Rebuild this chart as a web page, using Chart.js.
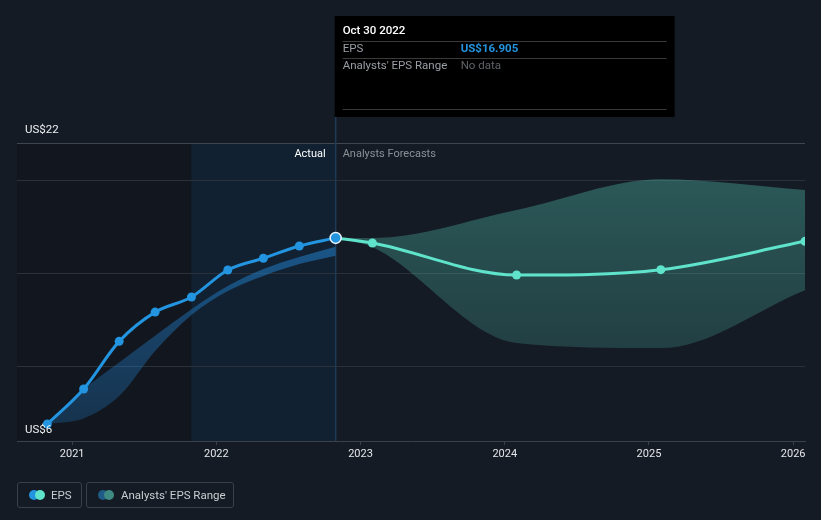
<!DOCTYPE html>
<html>
<head>
<meta charset="utf-8">
<script src="https://cdn.jsdelivr.net/npm/chart.js@4.4.0/dist/chart.umd.min.js"></script>
<style>
  html, body { margin:0; padding:0; background:#151b25; }
  #wrap { position:relative; width:821px; height:520px; overflow:hidden; font-family: Roboto, 'Noto Sans', sans-serif; }
  canvas { position:absolute; left:0; top:0; }
  .lg { position:absolute; top:482px; height:26px; border:1px solid #3a404a; border-radius:3px; box-sizing:border-box;
        color:#c9cdd2; font-size:11.5px; line-height:24px; }
  .dot { position:absolute; top:7px; width:10px; height:10px; border-radius:50%; }
</style>
</head>
<body>
<div id="wrap">
  <canvas id="c" width="821" height="520"></canvas>
  <div class="lg" style="left:17px;width:65px;">
    <span class="dot" style="left:11px;background:#2394df;"></span>
    <span class="dot" style="left:17px;background:#5fe3cb;"></span>
    <span style="position:absolute;left:33px;">EPS</span>
  </div>
  <div class="lg" style="left:86px;width:148px;">
    <span class="dot" style="left:11px;background:#1f5b86;"></span>
    <span class="dot" style="left:17px;background:#3f8a82;"></span>
    <span style="position:absolute;left:34px;">Analysts' EPS Range</span>
  </div>
</div>
<script>
// ---- data ----
const actualDates = ['2020-10-30','2021-01-30','2021-04-30','2021-07-30','2021-10-30','2022-01-30','2022-04-30','2022-07-30','2022-10-30'];
const actualEps   = [6.91, 8.79, 11.35, 12.92, 13.73, 15.18, 15.81, 16.47, 16.905];
const pastRangeLow  = [6.91, 7.21, 8.41, 10.83, 12.76, 14.05, 14.86, 15.50, 15.95];
const pastRangeHigh = [6.91, 8.77, 10.22, 11.65, 13.08, 14.32, 15.23, 15.88, 16.43];

const forecastDates = ['2022-10-30','2023-01-31','2024-01-31','2025-01-31','2026-01-31'];
const forecastEps   = [16.905, 16.63, 14.91, 15.20, 16.72];
const forecastLow   = [16.905, 16.41, 11.26, 10.99, 14.10];
const forecastHigh  = [16.905, 16.90, 18.40, 20.05, 19.48];

const yearTicks = [2021, 2022, 2023, 2024, 2025, 2026];
const yGridValues = [6, 10, 15, 20, 22];
const yLabelTop = 'US$22';
const yLabelBottom = 'US$6';
const xMinDate = '2020-08-14';
const xMaxDate = '2026-01-31';
const pastStartDate = '2021-10-30';
const hoverDate = '2022-10-30';
const tooltipTitle = 'Oct 30 2022';
const tooltipEps = 'US$16.905';

function toYear(s){
  const d = new Date(s + 'T00:00:00Z');
  const y = d.getUTCFullYear();
  const a = Date.UTC(y,0,1), b = Date.UTC(y+1,0,1);
  return y + (d.getTime() - a) / (b - a);
}
function pts(dates, vals){ return dates.map((d,i)=>({x:toYear(d), y:vals[i]})); }

Chart.defaults.font.family = 'Roboto, "Noto Sans", sans-serif';

const BLUE = '#2394df', TEAL = '#5fe3cb';

function grad(ctx, area, top, bottom){
  const g = ctx.createLinearGradient(0, area.top, 0, area.bottom);
  g.addColorStop(0, top); g.addColorStop(1, bottom);
  return g;
}

const bgPlugin = {
  id:'bg',
  beforeDraw(chart){
    const {ctx, chartArea:a, scales:{x}} = chart;
    ctx.save();
    ctx.fillStyle = '#151b25';
    ctx.fillRect(0,0,chart.width,chart.height);
    const xs = x.getPixelForValue(toYear(pastStartDate));
    const xh = x.getPixelForValue(toYear(hoverDate));
    ctx.fillStyle = '#12161e';
    ctx.fillRect(a.left, a.top, xs - a.left, a.bottom - a.top);
    ctx.fillStyle = '#112131';
    ctx.fillRect(xs, a.top, xh - xs, a.bottom - a.top);
    ctx.restore();
  },
  beforeDatasetsDraw(chart){
    const {ctx, chartArea:a, scales:{x}} = chart;
    const xh = x.getPixelForValue(toYear(hoverDate));
    ctx.save();
    ctx.strokeStyle = '#1d3a57';
    ctx.lineWidth = 1.5;
    ctx.beginPath(); ctx.moveTo(xh, 117); ctx.lineTo(xh, a.bottom); ctx.stroke();
    ctx.restore();
  },
  afterDraw(chart){
    const {ctx, chartArea:a, scales:{x}} = chart;
    const xh = x.getPixelForValue(toYear(hoverDate));
    ctx.save();
    ctx.textBaseline = 'middle';
    // y labels
    ctx.font = '11.5px Roboto';
    ctx.fillStyle = '#eef0f2';
    ctx.textAlign = 'left';
    ctx.fillText(yLabelTop, 25, 130);
    ctx.fillText(yLabelBottom, 25, 430);
    // Actual / forecasts
    ctx.font = '11px Roboto';
    ctx.textAlign = 'right';
    ctx.fillStyle = '#ffffff';
    ctx.fillText('Actual', xh - 10, 154);
    ctx.textAlign = 'left';
    ctx.fillStyle = '#8b9097';
    ctx.fillText('Analysts Forecasts', xh + 7, 154);
    // tooltip
    const bx = xh - 1, by = 16, bw = 340, bh = 101;
    ctx.fillStyle = '#000000';
    ctx.fillRect(bx, by, bw, bh);
    ctx.strokeStyle = '#3a3a3a'; ctx.lineWidth = 1;
    [41.5, 58.5, 109.5].forEach(yy=>{ ctx.beginPath(); ctx.moveTo(bx+8, yy); ctx.lineTo(bx+bw-8, yy); ctx.stroke(); });
    ctx.fillStyle = '#ffffff';
    ctx.font = '500 11.5px Roboto';
    ctx.fillText(tooltipTitle, bx+8, 31);
    ctx.font = '11.5px Roboto';
    ctx.fillStyle = '#9a9ea4';
    ctx.fillText('EPS', bx+8, 49.5);
    ctx.fillText("Analysts' EPS Range", bx+8, 66.5);
    ctx.fillStyle = '#2394df';
    ctx.font = 'bold 11.5px Roboto';
    ctx.fillText(tooltipEps, bx+126, 49.5);
    ctx.fillStyle = '#5f6368';
    ctx.font = '11.5px Roboto';
    ctx.fillText('No data', bx+126, 66.5);
    ctx.restore();
  }
};

const lastIdx = actualEps.length - 1;

new Chart(document.getElementById('c'), {
  type:'line',
  data:{
    datasets:[
      { data: pts(actualDates, actualEps), borderColor: BLUE, borderWidth: 3,
        pointBackgroundColor: BLUE,
        pointBorderColor: c => c.dataIndex === lastIdx ? '#e8f4ff' : BLUE,
        pointBorderWidth: c => c.dataIndex === lastIdx ? 1.5 : 0,
        pointRadius: c => c.dataIndex === lastIdx ? 5.5 : 4.5,
        cubicInterpolationMode:'monotone', fill:false },
      { data: pts(forecastDates, forecastEps), borderColor: TEAL, borderWidth: 3,
        pointBackgroundColor: TEAL, pointBorderWidth: 0,
        pointRadius: c => c.dataIndex === 0 ? 0 : 4.5,
        cubicInterpolationMode:'monotone', fill:false },
      { data: pts(actualDates, pastRangeLow), borderWidth:0, pointRadius:0, borderColor:'transparent',
        cubicInterpolationMode:'monotone', fill:false },
      { data: pts(actualDates, pastRangeHigh), borderWidth:0, pointRadius:0, borderColor:'transparent',
        cubicInterpolationMode:'monotone', fill:2,
        backgroundColor: c => { const a=c.chart.chartArea; if(!a) return 'rgba(33,150,243,0.4)';
          return grad(c.chart.ctx, a, 'rgba(35,140,225,0.62)', 'rgba(35,140,225,0.22)'); } },
      { data: pts(forecastDates, forecastLow), borderWidth:0, pointRadius:0, borderColor:'transparent',
        cubicInterpolationMode:'monotone', fill:false },
      { data: pts(forecastDates, forecastHigh), borderWidth:0, pointRadius:0, borderColor:'transparent',
        cubicInterpolationMode:'monotone', fill:4,
        backgroundColor: c => { const a=c.chart.chartArea; if(!a) return 'rgba(88,212,190,0.3)';
          return grad(c.chart.ctx, a, 'rgba(88,212,190,0.36)', 'rgba(88,212,190,0.12)'); } }
    ]
  },
  options:{
    responsive:false, animation:false, devicePixelRatio:1,
    layout:{ padding:{ left:17, right:16, top:143, bottom:49 } },
    plugins:{ legend:{display:false}, tooltip:{enabled:false} },
    events:[],
    scales:{
      x:{ type:'linear', min: toYear(xMinDate), max: toYear(xMaxDate),
        afterBuildTicks: s => { s.ticks = yearTicks.map(v=>({value:v})); },
        afterFit: s => { s.height = 30; },
        ticks:{ color:'#e4e6e9', font:{size:11}, padding:3, autoSkip:false, maxRotation:0,
          callback: v => String(v) },
        grid:{ drawOnChartArea:false, drawTicks:true, tickLength:4, color:'#3b414a' },
        border:{ color:'#3b414a', width:1 } },
      y:{ type:'linear', min:6, max:22,
        afterBuildTicks: s => { s.ticks = yGridValues.map(v=>({value:v})); },
        afterFit: s => { s.width = 0; },
        ticks:{ display:false },
        grid:{ drawTicks:false, tickLength:0,
          color: c => c.tick.value === 6 ? 'transparent' : (c.tick.value === 22 ? '#3f464f' : '#2a313a') },
        border:{ display:false } }
    }
  },
  plugins:[bgPlugin]
});
</script>
</body>
</html>
